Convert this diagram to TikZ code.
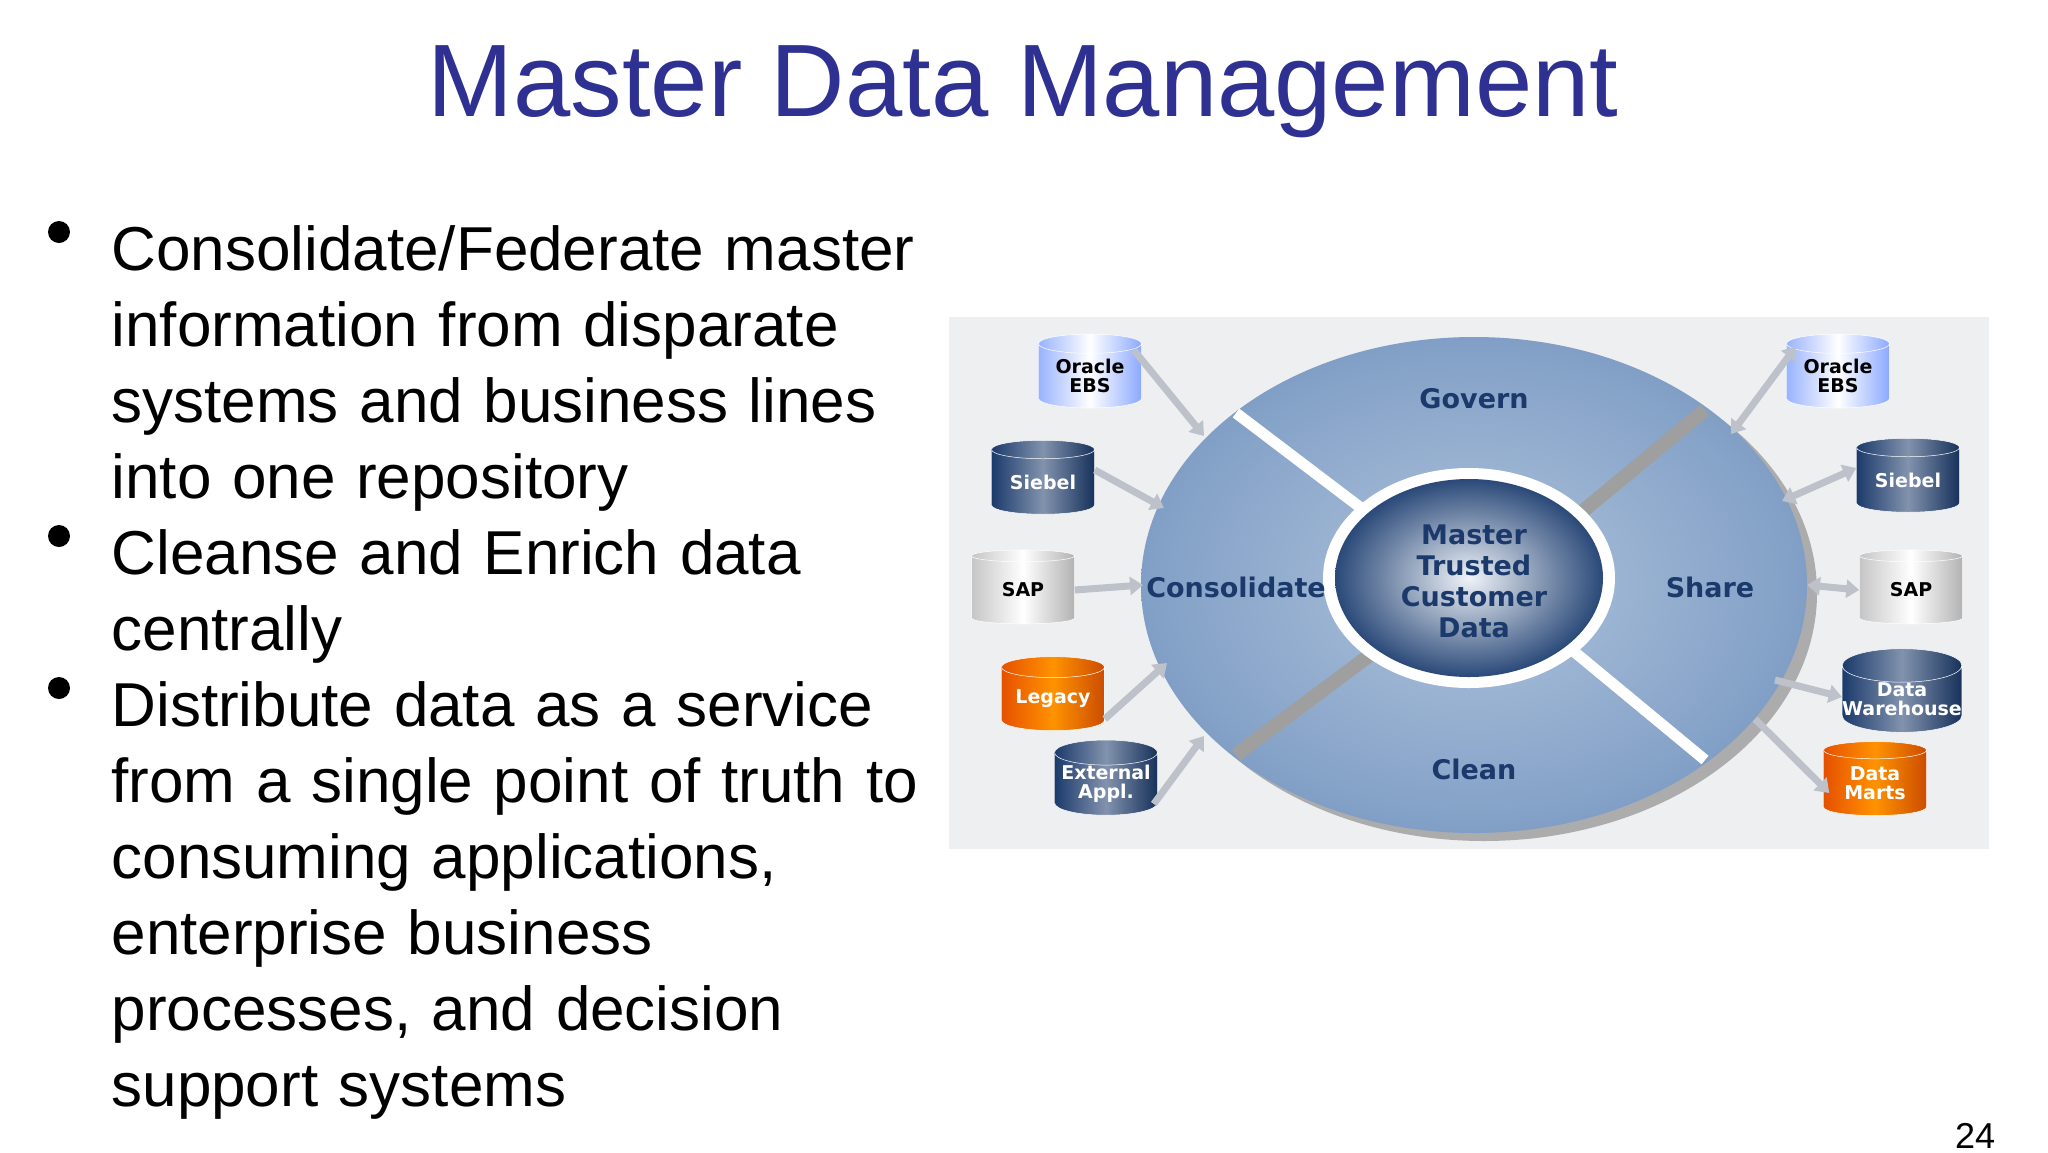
\documentclass[tikz,border=0pt]{standalone}
\usepackage{fontspec}
\setmainfont{Liberation Sans}
\newfontfamily\djsans{DejaVu Sans}
\usetikzlibrary{shapes.geometric,arrows.meta}
\definecolor{titleblue}{HTML}{2E3192}
\definecolor{navy}{HTML}{1B3A6B}
\definecolor{qfill}{HTML}{AFC3DC}
\definecolor{qdark}{HTML}{819FC6}
\definecolor{bgg}{HTML}{EEEFF1}
\definecolor{arrg}{HTML}{BDC2CA}
\tikzset{
 cyl/.style={cylinder, shape border rotate=90, aspect=0.28, minimum width=103pt, minimum height=74pt, inner sep=0pt, align=center, font=\djsans\bfseries\fontsize{19}{19}\selectfont, draw=white, line width=0.5pt},
 cdark/.style={cyl, left color=navy, right color=navy!85!black, middle color=navy!55!white, text=white},
 cgray/.style={cyl, left color=gray!45, right color=gray!60, middle color=white, text=black},
 corange/.style={cyl, left color=orange!70!red!90!black, right color=orange!75!red!80!black, middle color=orange!85!yellow, text=white},
 clight/.style={cyl, left color=cyan!25!blue!40, right color=cyan!25!blue!45, middle color=white, text=black},
 ga/.style={draw=arrg, line width=7pt, -{Triangle[length=13pt,width=18pt]}},
 gb/.style={draw=arrg, line width=7pt, {Triangle[length=13pt,width=18pt]}-{Triangle[length=13pt,width=18pt]}},
 lab/.style={text=navy, font=\djsans\bfseries\fontsize{27}{31}\selectfont, align=center},
 bul/.style={anchor=base west, font=\fontsize{62}{76}\selectfont, align=left, text width=900pt},
}
\begin{document}
\begin{tikzpicture}[x=1pt,y=-1pt]
\useasboundingbox (0,0) rectangle (2048,1152);
\fill[white] (0,0) rectangle (2048,1152);
\node[text=titleblue, font=\fontsize{103}{103}\selectfont, anchor=base] (title) at (1023,116) {Master Data Management};
\node[bul] (b1) at (108,270) {Consolidate/Federate master\\information from disparate\\systems and business lines\\into one repository};
\node[bul] (b2) at (108,574) {Cleanse and Enrich data\\centrally};
\node[bul] (b3) at (108,726) {Distribute data as a service\\from a single point of truth to\\consuming applications,\\enterprise business\\processes, and decision\\support systems};
\foreach \y in {232,536,688} \fill (59,\y) circle (11pt);
\node[font=\fontsize{36}{36}\selectfont, anchor=base] (pg) at (1975,1148) {24};
% diagram
\fill[bgg] (949,317) rectangle (1989,849);
\fill[gray!65] (1484,593) ellipse (333 and 248);
\shade[inner color=qfill, outer color=qdark] (1474,585) ellipse (333 and 248);
\draw[gray!75, line width=14pt] (1560,530) -- (1705,410);
\draw[gray!75, line width=14pt] (1390,640) -- (1236,755);
\draw[white, line width=11pt] (1390,530) -- (1236,413);
\draw[white, line width=11pt] (1560,640) -- (1705,760);
\fill[white] (1469,578) ellipse (146 and 110);
\shade[inner color=white!80!qfill, outer color=navy!85!qdark] (1469,578) ellipse (134 and 99);
\node[lab] (govern) at (1474,399) {Govern};
\node[lab] (consol) at (1236,587) {Consolidate};
\node[lab] (share) at (1710,587) {Share};
\node[lab] (clean) at (1474,769) {Clean};
\node[lab] (core) at (1474,581) {Master\\Trusted\\Customer\\Data};
% cylinders
\node[clight] (l1) at (1090,376) {Oracle\\EBS};
\node[cdark] (l2) at (1043,482) {Siebel};
\node[cgray] (l3) at (1023,590) {SAP};
\node[corange] (l4) at (1053,699) {Legacy};
\node[cdark] (l5) at (1106,784) {External\\Appl.};
\node[clight] (r1) at (1838,376) {Oracle\\EBS};
\node[cdark] (r2) at (1908,480) {Siebel};
\node[cgray] (r3) at (1911,590) {SAP};
\node[cdark] (r4) at (1902,699) {Data\\Warehouse};
\node[corange] (r5) at (1875,783) {Data\\Marts};
\coordinate (el1) at (1204,436); \coordinate (el2) at (1164,508);
\coordinate (el3) at (1143,585); \coordinate (el4) at (1167,663);
\coordinate (el5) at (1204,736);
\coordinate (er1) at (1731,434); \coordinate (er2) at (1782,501);
\coordinate (er3) at (1807,585); \coordinate (er4) at (1775,680);
\coordinate (er5) at (1755,719);
\draw[ga] ([xshift=-8pt,yshift=26pt]l1.east) -- (el1);
\draw[ga] ([yshift=12pt]l2.east) -- (el2);
\draw[ga] (l3.east) -- (el3);
\draw[ga] ([yshift=-20pt]l4.east) -- (el4);
\draw[ga] ([xshift=-4pt,yshift=-20pt]l5.east) -- (el5);
\draw[gb] (er1) -- ([xshift=10pt,yshift=30pt]r1.west);
\draw[gb] (er2) -- ([yshift=12pt]r2.west);
\draw[gb] (er3) -- (r3.west);
\draw[ga] (er4) -- ([yshift=2pt]r4.west);
\draw[ga] (er5) -- ([xshift=6pt,yshift=-10pt]r5.west);
\end{tikzpicture}
\end{document}
